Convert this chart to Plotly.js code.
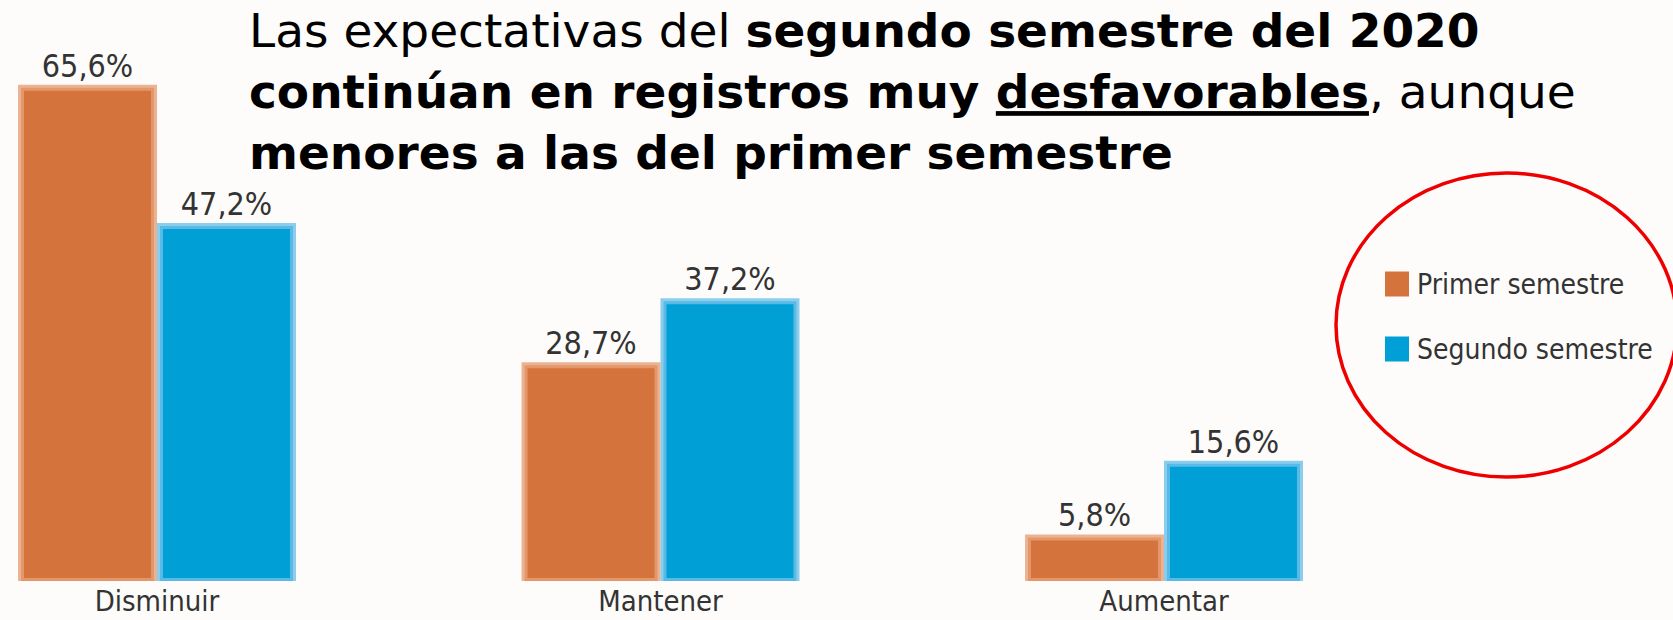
<!DOCTYPE html>
<html>
<head>
<meta charset="utf-8">
<script src="https://cdn.plot.ly/plotly-3.0.1.min.js"></script>
<style>
  html, body { margin: 0; padding: 0; background: #fdfcfa; }
  #chart { width: 1673px; height: 620px; }
</style>
</head>
<body>
<div id="chart"></div>
<script>
// ---- data ----
const categories = ["Disminuir", "Mantener", "Aumentar"];
const seriesNames = ["Primer semestre", "Segundo semestre"];
const primerSemestre = [65.6, 28.7, 5.8];
const segundoSemestre = [47.2, 37.2, 15.6];
const titleText = "Las expectativas del <b>segundo semestre del 2020</b><br>" +
  "<b>continúan en registros muy <u>desfavorables</u></b>, aunque<br>" +
  "<b>menores a las del primer semestre</b>";

// ---- styles ----
const W = 1673, H = 620;
const narrow = '"Liberation Sans Narrow", "DejaVu Sans Condensed", "Roboto Condensed", sans-serif';
const orange = '#d4733b', orangeEdge = 'rgba(230,160,120,0.8)';
const blue = '#00a0d6', blueEdge = 'rgba(110,192,232,0.8)';
const textGray = '#333333';

const plotBottom = 39;           // px margin below the plot
const plotH = H - plotBottom;    // plot height in px
const pxPerUnit = 7.52;          // px per percentage point
const catSpacing = 503.5;        // px between category centers
const firstCenter = 157;         // px of first category center

function barTrace(name, values, color, edge) {
  return {
    type: 'bar',
    name: name,
    x: categories,
    y: values,
    marker: { color: color, line: { color: edge, width: 6 } },
    texttemplate: '%{y:.1f}%',
    textposition: 'outside',
    cliponaxis: false,
    textfont: { family: narrow, size: 32, color: textGray },
    hoverinfo: 'skip'
  };
}

const data = [
  barTrace(seriesNames[0], primerSemestre, orange, orangeEdge),
  barTrace(seriesNames[1], segundoSemestre, blue, blueEdge)
];

// custom legend (squares + labels) and red ellipse
const px2x = p => p / W;
const py2y = p => (plotH - p) / plotH;
const legendColors = [orange, blue];
const legendRows = [284, 349];
const shapes = [];
const annotations = [];
seriesNames.forEach((nm, i) => {
  const cy = legendRows[i];
  shapes.push({
    type: 'rect', xref: 'paper', yref: 'paper',
    x0: px2x(1385), x1: px2x(1409), y0: py2y(cy - 12.5), y1: py2y(cy + 12.5),
    fillcolor: legendColors[i], line: { width: 0 }
  });
  annotations.push({
    xref: 'paper', yref: 'paper', x: px2x(1415), y: py2y(cy),
    xanchor: 'left', yanchor: 'middle', showarrow: false,
    text: nm, font: { family: narrow, size: 28, color: textGray }
  });
});
shapes.push({
  type: 'circle', xref: 'paper', yref: 'paper',
  x0: px2x(1336), x1: px2x(1677), y0: py2y(477), y1: py2y(173),
  line: { color: '#ee0000', width: 3.5 }, fillcolor: 'rgba(0,0,0,0)'
});

const layout = {
  width: W, height: H,
  paper_bgcolor: '#fdfcfa', plot_bgcolor: '#fdfcfa',
  margin: { l: 0, r: 0, t: 0, b: plotBottom, pad: 0 },
  separators: ',.',
  showlegend: false,
  barmode: 'group',
  bargap: 0.448,
  bargroupgap: 0.043,
  title: {
    text: titleText,
    x: 249 / W, xref: 'container', xanchor: 'left',
    y: 1 - 47 / H, yref: 'container', yanchor: 'top',
    font: { family: '"DejaVu Sans", Verdana, sans-serif', size: 47, color: '#000000' }
  },
  xaxis: {
    type: 'category',
    range: [-firstCenter / catSpacing, (W - firstCenter) / catSpacing],
    showgrid: false, zeroline: false, showline: false, ticks: '',
    automargin: false,
    tickfont: { family: narrow, size: 29, color: textGray }
  },
  yaxis: {
    range: [0, plotH / pxPerUnit],
    showgrid: false, zeroline: false, showline: false, showticklabels: false, ticks: '',
    automargin: false
  },
  shapes: shapes,
  annotations: annotations
};

Plotly.newPlot('chart', data, layout, { displayModeBar: false, staticPlot: true });
</script>
</body>
</html>
